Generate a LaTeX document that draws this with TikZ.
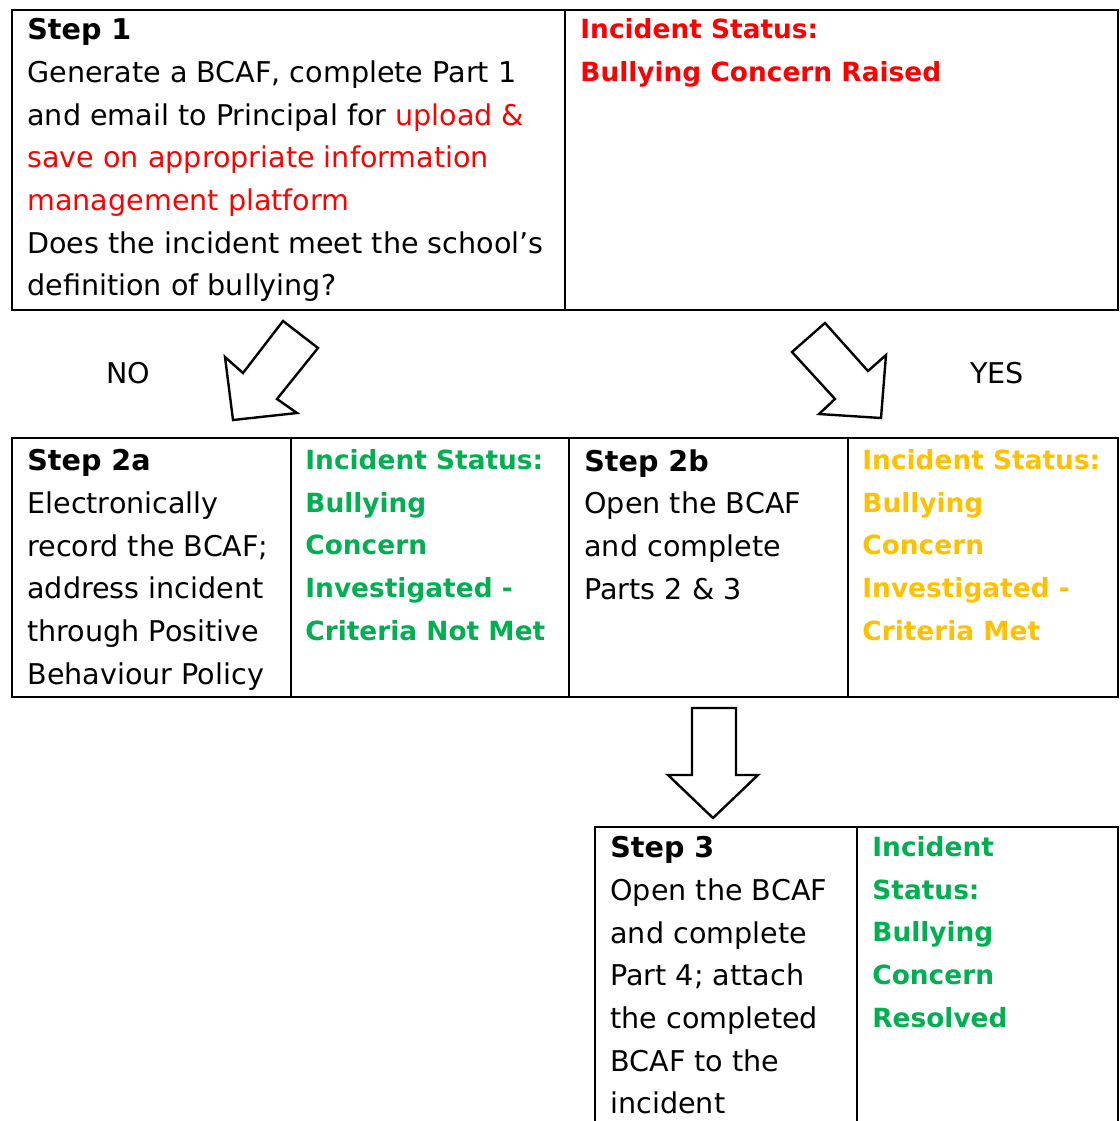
\documentclass[tikz,border=0pt]{standalone}
\usepackage{fontspec}
\setmainfont{DejaVu Sans}
\usepackage{xcolor}
\usepackage{tikz}
\usetikzlibrary{positioning}

\definecolor{alertred}{RGB}{255,0,0}
\definecolor{okgreen}{RGB}{0,176,80}
\definecolor{metgold}{RGB}{255,192,0}

\begin{document}
\begin{tikzpicture}[x=0.5pt, y=-0.5pt,
  frame/.style={line width=1pt},
  celltext/.style={anchor=north west, inner sep=0pt, align=left, font=\fontsize{14.3}{21.35}\selectfont},
  status/.style={celltext, font=\fontsize{13.2}{21.35}\selectfont\bfseries},
  hollow/.style={line width=1.2pt, line join=miter, fill=white}
]
  \useasboundingbox (0,0) rectangle (1120,1121);

  % top row
  \draw[frame] (12,10) rectangle (1118,310);
  \draw[frame] (565,10) -- (565,310);
  \node[celltext] (step1) at (27,18) {\textbf{Step 1}\\Generate a BCAF, complete Part 1\\and email to Principal for \textcolor{alertred}{upload \&}\\\textcolor{alertred}{save on appropriate information}\\\textcolor{alertred}{management platform}\\Does the incident meet the school’s\\definition of bullying?};
  \node[status, text=alertred] (status1) at (580,18) {Incident Status:\\Bullying Concern Raised};

  % decision arrows
  \draw[hollow] (233,420) -- (225,357) -- (243,373) -- (283,321) -- (318,348) -- (277,399) -- (297,413) -- cycle;
  \draw[hollow] (881,418) -- (886,355) -- (868,371) -- (825,323) -- (792,352) -- (835,399) -- (819,414) -- cycle;
  \node[font=\fontsize{14.3}{16}\selectfont] (no) at (128,373) {NO};
  \node[font=\fontsize{14.3}{16}\selectfont] (yes) at (997,373) {YES};

  % middle row
  \draw[frame] (12,438) rectangle (1118,697);
  \foreach \x in {291,569,848}
    \draw[frame] (\x,438) -- (\x,697);
  \node[celltext] (step2a) at (27,449) {\textbf{Step 2a}\\Electronically\\record the BCAF;\\address incident\\through Positive\\Behaviour Policy};
  \node[status, text=okgreen] (status2a) at (305,449) {Incident Status:\\Bullying\\Concern\\Investigated -\\Criteria Not Met};
  \node[celltext] (step2b) at (584,449) {\textbf{Step 2b}\\Open the BCAF\\and complete\\Parts 2 \& 3};
  \node[status, text=metgold] (status2b) at (862,449) {Incident Status:\\Bullying\\Concern\\Investigated -\\Criteria Met};

  % down arrow
  \draw[hollow] (692,708) -- (736,708) -- (736,775) -- (758,775) -- (713,818) -- (668,775) -- (692,775) -- cycle;

  % bottom row
  \draw[frame] (595,1130) |- (1118,827) -- (1118,1130);
  \draw[frame] (857,827) -- (857,1130);
  \node[celltext] (step3) at (610,836) {\textbf{Step 3}\\Open the BCAF\\and complete\\Part 4; attach\\the completed\\BCAF to the\\incident};
  \node[status, text=okgreen] (status3) at (872,836) {Incident\\Status:\\Bullying\\Concern\\Resolved};
\end{tikzpicture}
\end{document}
